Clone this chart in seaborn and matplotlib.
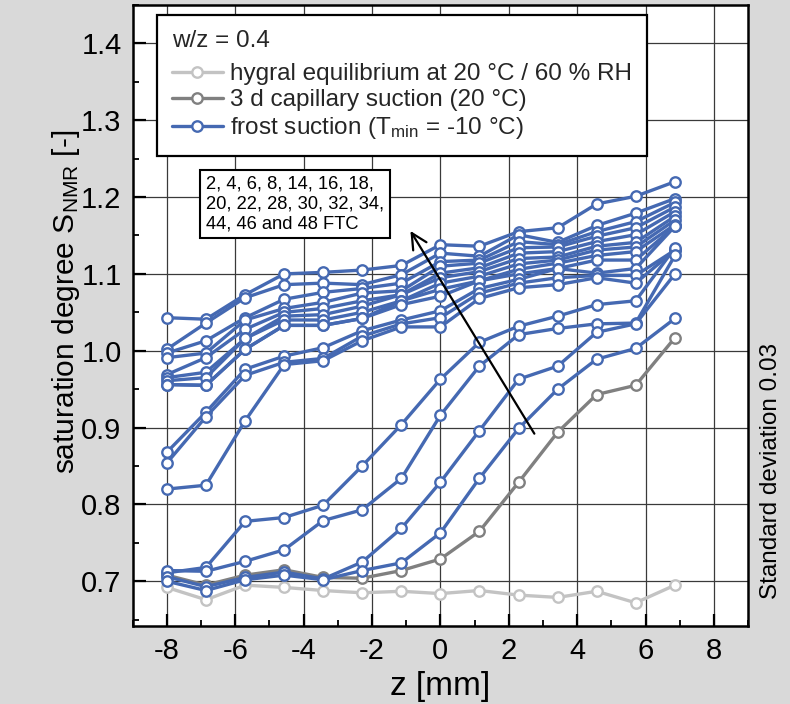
import numpy as np
import pandas as pd
import matplotlib
matplotlib.use("Agg")
import matplotlib.pyplot as plt
import seaborn as sns
from matplotlib.lines import Line2D
from matplotlib.ticker import MultipleLocator, FormatStrFormatter

# ---------------- data ----------------
z_mm = [-8.0, -6.86, -5.71, -4.57, -3.43, -2.29, -1.14, 0.0, 1.14, 2.29, 3.43, 4.57, 5.71, 6.86]

hygral = [0.692, 0.676, 0.695, 0.692, 0.688, 0.685, 0.687, 0.684, 0.688, 0.682, 0.679, 0.687, 0.672, 0.695]
capillary = [0.708, 0.695, 0.708, 0.715, 0.705, 0.704, 0.714, 0.729, 0.765, 0.829, 0.894, 0.943, 0.955, 1.017]

frost_u1 = [1.043, 1.041, 1.073, 1.100, 1.102, 1.105, 1.111, 1.138, 1.136, 1.155, 1.160, 1.191, 1.201, 1.220]
frost_u2 = [1.002, 1.036, 1.069, 1.086, 1.088, 1.086, 1.099, 1.127, 1.123, 1.151, 1.141, 1.163, 1.179, 1.198]
frost_u3 = [0.997, 1.013, 1.043, 1.067, 1.076, 1.081, 1.088, 1.116, 1.118, 1.142, 1.138, 1.155, 1.168, 1.193]
frost_u4 = [0.991, 0.997, 1.040, 1.055, 1.063, 1.075, 1.078, 1.110, 1.114, 1.134, 1.135, 1.149, 1.160, 1.187]
frost_u5 = [0.969, 0.991, 1.028, 1.050, 1.055, 1.065, 1.073, 1.101, 1.108, 1.127, 1.129, 1.142, 1.151, 1.181]
frost_u6 = [0.965, 0.972, 1.016, 1.045, 1.047, 1.058, 1.073, 1.095, 1.103, 1.120, 1.122, 1.136, 1.141, 1.175]
frost_u7 = [0.961, 0.965, 1.016, 1.040, 1.040, 1.050, 1.065, 1.088, 1.097, 1.113, 1.118, 1.131, 1.135, 1.170]
frost_u8 = [0.956, 0.955, 1.002, 1.033, 1.033, 1.042, 1.065, 1.080, 1.091, 1.106, 1.114, 1.124, 1.129, 1.164]
frost_u9 = [0.956, 0.955, 1.002, 1.033, 1.033, 1.042, 1.060, 1.071, 1.091, 1.100, 1.107, 1.118, 1.118, 1.162]
frost_m1 = [0.868, 0.920, 0.976, 0.993, 1.004, 1.026, 1.040, 1.052, 1.081, 1.093, 1.107, 1.101, 1.107, 1.162]
frost_m2 = [0.854, 0.914, 0.968, 0.985, 0.990, 1.019, 1.035, 1.043, 1.075, 1.088, 1.095, 1.098, 1.098, 1.131]
frost_m3 = [0.820, 0.825, 0.909, 0.982, 0.987, 1.013, 1.031, 1.031, 1.068, 1.082, 1.086, 1.095, 1.088, 1.131]
frost_l1 = [0.711, 0.718, 0.778, 0.783, 0.799, 0.850, 0.904, 0.963, 1.011, 1.032, 1.045, 1.060, 1.065, 1.134]
frost_l2 = [0.714, 0.713, 0.726, 0.741, 0.779, 0.793, 0.834, 0.916, 0.980, 1.021, 1.029, 1.035, 1.036, 1.124]
frost_l3 = [0.706, 0.693, 0.705, 0.712, 0.703, 0.725, 0.769, 0.829, 0.896, 0.963, 0.980, 1.024, 1.035, 1.100]
frost_l4 = [0.700, 0.688, 0.702, 0.708, 0.702, 0.714, 0.724, 0.763, 0.834, 0.899, 0.950, 0.989, 1.003, 1.042]

frost_curves = [frost_u1, frost_u2, frost_u3, frost_u4, frost_u5, frost_u6, frost_u7, frost_u8,
                frost_u9, frost_m1, frost_m2, frost_m3, frost_l1, frost_l2, frost_l3, frost_l4]

legend_labels = ["hygral equilibrium at 20 °C / 60 % RH",
                 "3 d capillary suction (20 °C)",
                 "frost suction (T$_\\mathregular{min}$ = -10 °C)"]
group_names = ["hygral", "capillary", "frost"]
colors = {"hygral": "#c3c3c3", "capillary": "#808080", "frost": "#4569b2"}
ftc_text = "2, 4, 6, 8, 14, 16, 18,\n20, 22, 28, 30, 32, 34,\n44, 46 and 48 FTC"

# ---------------- long table ----------------
rows = []
for v, zz in zip(hygral, z_mm):
    rows.append(("hygral", "h", zz, v))
for v, zz in zip(capillary, z_mm):
    rows.append(("capillary", "c", zz, v))
for i, curve in enumerate(frost_curves):
    for v, zz in zip(curve, z_mm):
        rows.append(("frost", f"f{i:02d}", zz, v))
df = pd.DataFrame(rows, columns=["group", "curve", "z", "S"])

# ---------------- style ----------------
sns.set_theme(style="white")
plt.rcParams["font.family"] = ["Liberation Sans", "DejaVu Sans"]
plt.rcParams["mathtext.fontset"] = "custom"
plt.rcParams["mathtext.rm"] = "Liberation Sans"
plt.rcParams["mathtext.it"] = "Liberation Sans:italic"
plt.rcParams["mathtext.default"] = "regular"
plt.rcParams["axes.unicode_minus"] = False

bg = "#d9d9d9"
fig = plt.figure(figsize=(7.9, 7.04), dpi=100, facecolor=bg)
ax = fig.add_axes([0.168, 0.111, 0.779, 0.882])
ax.set_facecolor("white")

sns.lineplot(data=df, x="z", y="S", hue="group", units="curve", estimator=None,
             hue_order=group_names, palette=colors, marker="o", markersize=7.5,
             linewidth=2.4, sort=False, legend=False, ax=ax)

for ln in ax.lines:
    c = ln.get_color()
    ln.set_markerfacecolor("white")
    ln.set_markeredgecolor(c)
    ln.set_markeredgewidth(1.7)
    ln.set_zorder(3 if c == colors["frost"] else 2.5)

ax.set_xlim(-9, 9)
ax.set_ylim(0.642, 1.450)
ax.xaxis.set_major_locator(MultipleLocator(2))
ax.xaxis.set_minor_locator(MultipleLocator(1))
ax.yaxis.set_major_locator(MultipleLocator(0.1))
ax.yaxis.set_minor_locator(MultipleLocator(0.05))
ax.yaxis.set_major_formatter(FormatStrFormatter("%.1f"))
ax.grid(True, which="major", color="#3a3a3a", linewidth=0.9)
ax.set_axisbelow(True)
ax.tick_params(which="both", direction="in", left=True, bottom=True, top=False, right=False,
               color="black", labelsize=21, labelcolor="black")
ax.tick_params(which="major", length=9, width=1.6, pad=8)
ax.tick_params(which="minor", length=4.5, width=1.3)
for sp in ax.spines.values():
    sp.set_color("black")
    sp.set_linewidth(1.8)

ax.set_xlabel("z [mm]", fontsize=24, color="black", labelpad=4)
ax.set_ylabel("saturation degree S$_\\mathregular{NMR}$ [-]", fontsize=21.5, color="black")
ax.yaxis.set_label_coords(-0.083, 0.522)

handles = [Line2D([], [], color=colors[g], marker="o", mfc="white", mec=colors[g],
                  lw=2.4, ms=7.5, mew=1.7) for g in group_names]
leg = ax.legend(handles, legend_labels, title="w/z = 0.4", loc="upper left",
                bbox_to_anchor=(0.039, 0.984), fontsize=17.5, title_fontsize=17.5,
                frameon=True, fancybox=False, edgecolor="black", framealpha=1,
                handlelength=2.1, labelspacing=0.17, borderpad=0.62, handletextpad=0.3,
                borderaxespad=0)
leg._legend_box.align = "left"
leg._legend_box.sep = 8
leg.get_frame().set_linewidth(1.6)
leg.set_zorder(5)

ax.text(-6.86, 1.228, ftc_text, ha="left", va="top", fontsize=13.2, color="black",
        linespacing=1.22, zorder=6,
        bbox=dict(boxstyle="square,pad=0.3", fc="white", ec="black", lw=1.5))

ax.annotate("", xy=(-0.92, 1.159), xytext=(2.79, 0.889),
            arrowprops=dict(arrowstyle="->", color="black", lw=1.6, mutation_scale=28),
            zorder=6)

fig.text(0.976, 1 - 471 / 704, "Standard deviation 0.03", rotation=90,
         ha="center", va="center", fontsize=17.5, color="black")

fig.savefig("out.png", dpi=100, facecolor=bg)
